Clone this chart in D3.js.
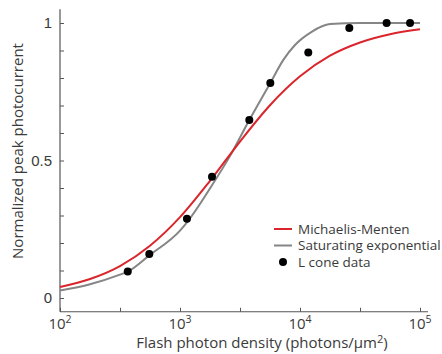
<!DOCTYPE html>
<html>
<head>
<meta charset="utf-8">
<script src="https://cdn.jsdelivr.net/npm/d3@7"></script>
<style>
  body { margin: 0; background: #fff; }
  svg { display: block; font-family: "Open Sans", "Noto Sans", sans-serif; }
</style>
</head>
<body>
<svg id="chart" width="442" height="354"></svg>
<script>
// flash photon density values (photons/um^2) and normalized peak photocurrent
const coneX = [367, 555, 1143, 1848, 3781, 5658, 11724, 25760, 52700, 82600];
const coneY = [0.096, 0.16, 0.288, 0.441, 0.647, 0.782, 0.893, 0.982, 1.0, 1.0];

// curve samples
const mmX = [100, 178, 316, 562, 1000, 1778, 3162, 5623, 10000, 17783, 31623, 56234, 100000];
const mmY = [0.040, 0.069, 0.116, 0.190, 0.294, 0.426, 0.569, 0.701, 0.806, 0.881, 0.929, 0.959, 0.977];

const expX = [100, 178, 316, 367, 555, 1000, 1143, 1848, 2600, 3781, 5658, 7264, 9085, 12500, 17800, 31623, 56234, 100000];
const expY = [0.027, 0.05, 0.085, 0.096, 0.155, 0.245, 0.275, 0.41, 0.515, 0.647, 0.782, 0.866, 0.92, 0.968, 0.996, 1.0, 1.0, 1.0];

const xTicks = [100, 316.2, 1000, 3162, 10000, 31623, 100000];
const xTickExp = { 100: 2, 1000: 3, 10000: 4, 100000: 5 };
const yTicks = [0, 0.1, 0.2, 0.3, 0.4, 0.5, 0.6, 0.7, 0.8, 0.9, 1];
const yTickLabels = { 0: "0", 0.5: "0.5", 1: "1" };

const legendItems = [
  { label: "Michaelis-Menten", kind: "line", color: "#d9252b" },
  { label: "Saturating exponential", kind: "line", color: "#858585" },
  { label: "L cone data", kind: "dot", color: "#000" }
];

const textColor = "#3a3a3a";
const axisColor = "#555";

const svg = d3.select("#chart");

const x = d3.scaleLog().domain([100, 100000]).range([60, 420]);
const y = d3.scaleLinear().domain([-0.05, 1.05]).range([311.75, 9.25]);

// y axis
const yAxis = svg.append("g")
  .attr("transform", "translate(60,0)")
  .call(d3.axisLeft(y).tickValues(yTicks).tickSize(-4).tickPadding(8)
    .tickFormat(d => yTickLabels[d] ?? ""));
yAxis.select(".domain").remove();
yAxis.selectAll(".tick line").attr("stroke", axisColor);
yAxis.selectAll(".tick text").attr("fill", textColor).attr("font-size", 15);
svg.append("line")
  .attr("x1", 60).attr("x2", 60)
  .attr("y1", y.range()[0]).attr("y2", y.range()[1])
  .attr("stroke", axisColor).attr("stroke-width", 1.2);

// x axis
const xAxis = svg.append("g")
  .attr("transform", `translate(0,${y.range()[0]})`)
  .call(d3.axisBottom(x).tickValues(xTicks).tickSize(-4).tickFormat(""));
xAxis.select(".domain").remove();
xAxis.selectAll(".tick line").attr("stroke", axisColor);
svg.append("line")
  .attr("x1", 60).attr("x2", x(100000) + 8)
  .attr("y1", y.range()[0]).attr("y2", y.range()[0])
  .attr("stroke", axisColor).attr("stroke-width", 1.2);

const decadeLabels = svg.append("g")
  .selectAll("text")
  .data(xTicks.filter(d => xTickExp[d] !== undefined))
  .join("text")
  .attr("x", d => x(d))
  .attr("y", y.range()[0] + 17)
  .attr("text-anchor", "middle")
  .attr("fill", textColor)
  .attr("font-size", 15);
decadeLabels.append("tspan").text("10");
decadeLabels.append("tspan").attr("dy", -6).attr("font-size", 10.5).text(d => xTickExp[d]);

// axis titles
const xTitle = svg.append("text")
  .attr("x", 262).attr("y", 348)
  .attr("text-anchor", "middle")
  .attr("fill", textColor)
  .attr("font-size", 15);
xTitle.append("tspan").text("Flash photon density (photons/\u03bcm");
xTitle.append("tspan").attr("dy", -5).attr("font-size", 11).text("2");
xTitle.append("tspan").attr("dy", 5).text(")");

svg.append("text")
  .attr("transform", "translate(23,151) rotate(-90)")
  .attr("text-anchor", "middle")
  .attr("fill", textColor)
  .attr("font-size", 15)
  .text("Normalized peak photocurrent");

// curves
const line = d3.line()
  .x(d => x(d[0]))
  .y(d => y(d[1]))
  .curve(d3.curveMonotoneX);

svg.append("path")
  .datum(expX.map((v, i) => [v, expY[i]]))
  .attr("d", line)
  .attr("fill", "none")
  .attr("stroke", legendItems[1].color)
  .attr("stroke-width", 2);

svg.append("path")
  .datum(mmX.map((v, i) => [v, mmY[i]]))
  .attr("d", line)
  .attr("fill", "none")
  .attr("stroke", legendItems[0].color)
  .attr("stroke-width", 2);

// data points
svg.append("g")
  .selectAll("circle")
  .data(coneX.map((v, i) => [v, coneY[i]]))
  .join("circle")
  .attr("cx", d => x(d[0]))
  .attr("cy", d => y(d[1]))
  .attr("r", 4)
  .attr("fill", "#000");

// legend
const legend = svg.append("g").attr("transform", "translate(274,229)");
const rows = legend.selectAll("g")
  .data(legendItems)
  .join("g")
  .attr("transform", (d, i) => `translate(0,${i * 16.5})`);
rows.filter(d => d.kind === "line").append("line")
  .attr("x1", 0).attr("x2", 18)
  .attr("stroke", d => d.color)
  .attr("stroke-width", 2);
rows.filter(d => d.kind === "dot").append("circle")
  .attr("cx", 9).attr("r", 4)
  .attr("fill", d => d.color);
rows.append("text")
  .attr("x", 24)
  .attr("dy", "0.35em")
  .attr("fill", textColor)
  .attr("font-size", 13.5)
  .text(d => d.label);
</script>
</body>
</html>
